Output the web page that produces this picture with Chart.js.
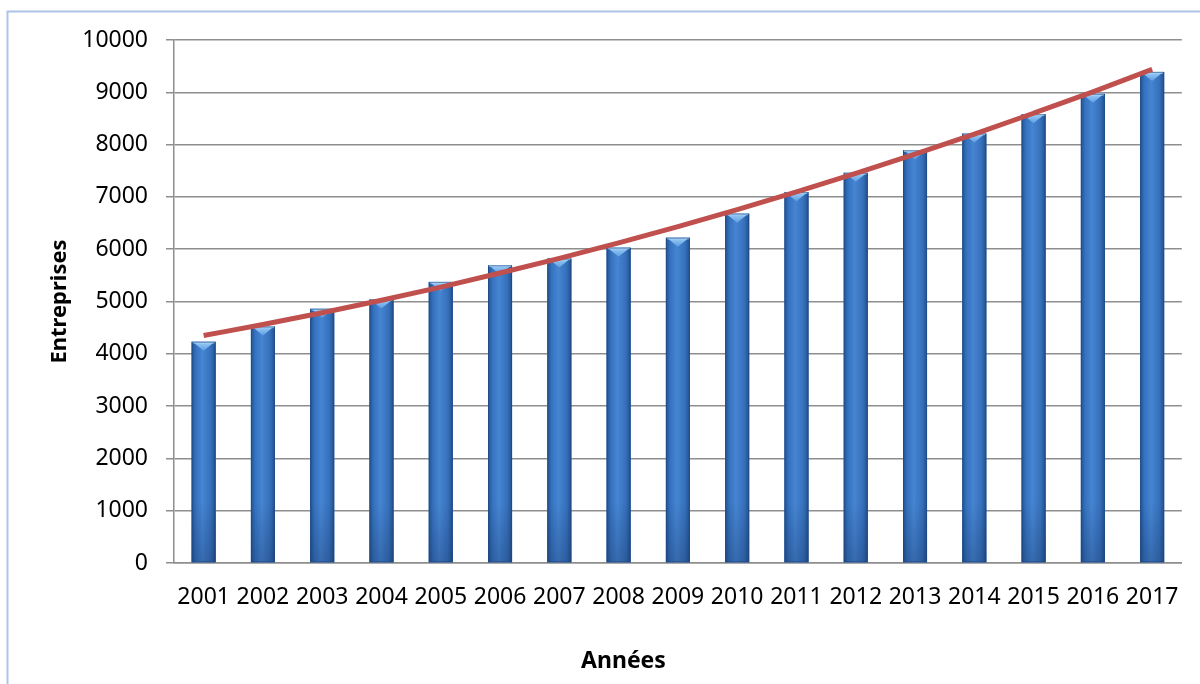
<!DOCTYPE html>
<html>
<head>
<meta charset="utf-8">
<script src="https://cdn.jsdelivr.net/npm/chart.js@4.4.1/dist/chart.umd.min.js"></script>
<style>
  html, body { margin: 0; padding: 0; background: #fff; overflow: hidden; }
  #wrap { position: relative; width: 1200px; height: 684px; }
  canvas { position: absolute; left: 0; top: 0; }
</style>
</head>
<body>
<div id="wrap"><canvas id="chart" width="1200" height="684"></canvas></div>
<script>
// Nombre d'entreprises par année, avec courbe de tendance
const ANNEES = ['2001', '2002', '2003', '2004', '2005', '2006', '2007', '2008', '2009',
                '2010', '2011', '2012', '2013', '2014', '2015', '2016', '2017'];
const ENTREPRISES = [4230, 4520, 4860, 5040, 5375, 5690, 5820, 6030, 6220,
                     6680, 7090, 7460, 7890, 8210, 8580, 8970, 9390];
const TENDANCE = [4350, 4560, 4785, 5025, 5275, 5545, 5825, 6120, 6430,
                  6755, 7095, 7450, 7820, 8200, 8600, 9010, 9440];
const Y_TICKS = [0, 1000, 2000, 3000, 4000, 5000, 6000, 7000, 8000, 9000, 10000];

const FONT = "'Noto Sans', 'Open Sans', sans-serif";
const GRID = '#8e8e8e';
const BAR_PCT = 0.405;

// light frame around the chart area
const frame = {
  id: 'frame',
  beforeDraw(chart) {
    const ctx = chart.ctx;
    ctx.save();
    ctx.strokeStyle = '#aec3e8';
    ctx.lineWidth = 2;
    ctx.beginPath();
    ctx.moveTo(7.5, chart.height);
    ctx.lineTo(7.5, 11.5);
    ctx.lineTo(chart.width, 11.5);
    ctx.stroke();
    ctx.restore();
  }
};

// shaded face, bevel cap and outline on each column
const bevel = {
  id: 'bevel',
  afterDatasetDraw(chart, args) {
    if (args.meta.type !== 'bar') return;
    const ctx = chart.ctx;
    ctx.save();
    args.meta.data.forEach(bar => {
      const l = bar.x - bar.width / 2;
      const r = bar.x + bar.width / 2;
      const top = bar.y;
      const base = bar.base;
      if (![l, r, top, base].every(Number.isFinite)) return;
      // face: darker edges, lighter middle
      const face = ctx.createLinearGradient(l, 0, r, 0);
      face.addColorStop(0, '#23538f');
      face.addColorStop(0.18, '#3572bf');
      face.addColorStop(0.45, '#4685d2');
      face.addColorStop(0.8, '#3670bb');
      face.addColorStop(1, '#22508c');
      ctx.fillStyle = face;
      ctx.fillRect(l, top, bar.width, base - top);
      // darker towards the base
      const sh = ctx.createLinearGradient(0, base - 60, 0, base);
      sh.addColorStop(0, 'rgba(20,45,90,0)');
      sh.addColorStop(1, 'rgba(20,45,90,0.3)');
      ctx.fillStyle = sh;
      ctx.fillRect(l, base - 60, bar.width, 60);
      // inverted triangle at the top
      const cap = ctx.createLinearGradient(0, top, 0, top + 9);
      cap.addColorStop(0, '#9fd0f7');
      cap.addColorStop(1, '#5d9de2');
      ctx.fillStyle = cap;
      ctx.beginPath();
      ctx.moveTo(l + 1, top);
      ctx.lineTo(r - 1, top);
      ctx.lineTo(bar.x, top + 9);
      ctx.closePath();
      ctx.fill();
      ctx.fillStyle = '#b5dcfa';
      ctx.fillRect(l + 1, top, bar.width - 2, 1.5);
      // thin outline
      ctx.strokeStyle = 'rgba(30,70,130,0.6)';
      ctx.lineWidth = 1;
      ctx.strokeRect(l + 0.5, top + 0.5, bar.width - 1, base - top - 1);
    });
    ctx.restore();
  }
};

// x axis title, set slightly left of the plot centre
const xTitle = {
  id: 'xTitle',
  afterDraw(chart) {
    const a = chart.chartArea;
    const ctx = chart.ctx;
    ctx.save();
    ctx.font = 'bold 23px ' + FONT;
    ctx.fillStyle = '#000';
    ctx.textAlign = 'center';
    ctx.textBaseline = 'alphabetic';
    ctx.fillText('Années', a.left + (a.right - a.left) * 0.446, a.bottom + 105);
    ctx.restore();
  }
};

new Chart(document.getElementById('chart'), {
  data: {
    labels: ANNEES,
    datasets: [
      {
        type: 'line',
        label: 'Tendance',
        data: TENDANCE,
        borderColor: '#c0504d',
        borderWidth: 5,
        pointRadius: 0,
        cubicInterpolationMode: 'monotone',
        borderCapStyle: 'butt',
        order: 0
      },
      {
        type: 'bar',
        label: 'Entreprises',
        data: ENTREPRISES,
        backgroundColor: '#3a78c8',
        borderWidth: 0,
        categoryPercentage: 1,
        barPercentage: BAR_PCT,
        order: 1
      }
    ]
  },
  options: {
    responsive: false,
    animation: false,
    devicePixelRatio: 1,
    layout: { padding: { left: 0, top: 40, right: 18, bottom: 0 } },
    plugins: {
      legend: { display: false },
      tooltip: { enabled: false }
    },
    scales: {
      x: {
        grid: { display: false, drawTicks: false },
        border: { display: true, color: GRID, width: 1.5 },
        ticks: {
          autoSkip: false,
          maxRotation: 0,
          padding: 21,
          color: '#000',
          font: { family: FONT, size: 23 }
        },
        afterFit(scale) { scale.height = 121; }
      },
      y: {
        min: 0,
        max: 10000,
        afterBuildTicks(scale) { scale.ticks = Y_TICKS.map(v => ({ value: v })); },
        grid: { color: GRID, lineWidth: 1.5, tickLength: 8 },
        border: { display: true, color: GRID, width: 1.5 },
        ticks: {
          padding: 18,
          color: '#000',
          font: { family: FONT, size: 23 },
          callback: v => String(v)
        },
        title: {
          display: true,
          text: 'Entreprises',
          color: '#000',
          padding: { top: 47, bottom: 0 },
          font: { family: FONT, size: 22, weight: 'bold' }
        },
        afterFit(scale) { scale.width = 174; }
      }
    }
  },
  plugins: [frame, bevel, xTitle]
});
</script>
</body>
</html>
